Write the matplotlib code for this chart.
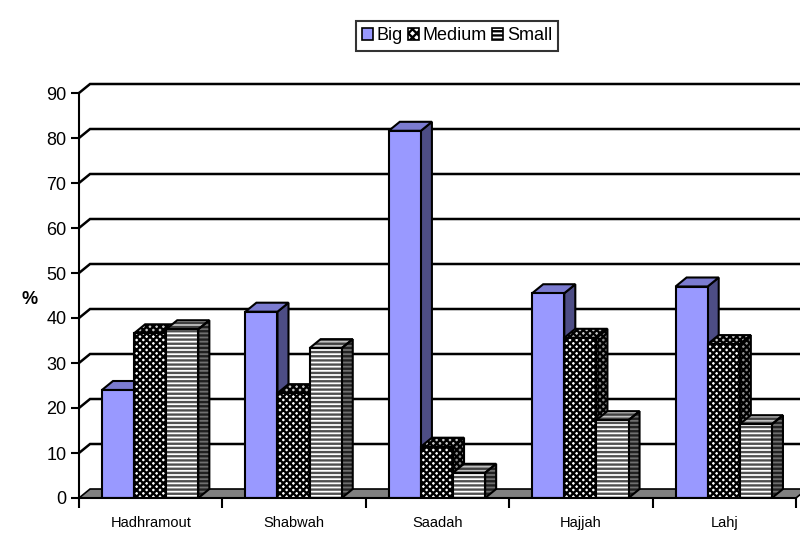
import numpy as np
import matplotlib
matplotlib.use("Agg")
import matplotlib.pyplot as plt
from matplotlib.patches import Polygon, Patch

plt.rcParams["font.family"] = ["Liberation Sans", "DejaVu Sans"]
plt.rcParams["hatch.linewidth"] = 1.7

regions = ["Hadhramout", "Shabwah", "Saadah", "Hajjah", "Lahj"]
series = ["Big", "Medium", "Small"]
big = [24, 41.4, 81.6, 45.5, 47]
medium = [36.6, 23.3, 11.4, 35.6, 34.2]
small = [37.5, 33.3, 5.6, 17.3, 16.4]
yticks = [0, 10, 20, 30, 40, 50, 60, 70, 80, 90]

# 3d look: depth offset of the back wall, in data units
dx, dy = 0.077, 2.0
bar_w = 0.224
group_off = 0.16

# face styles per series: (front, top, side) as (facecolor, hatch colour, hatch)
styles = {
    "Big": [("#9999ff", None, None), ("#7b7bd0", None, None), ("#4d4d85", None, None)],
    "Medium": [("white", "black", "xxxxx"), ("#c8c8c8", "black", "xxxxx"), ("#909090", "black", "xxxxx")],
    "Small": [("white", "#505050", "----"), ("#c0c0c0", "#404040", "----"), ("#707070", "#202020", "----")],
}

fig = plt.figure(figsize=(8, 5.34), dpi=100)
ax = fig.add_axes([79 / 800, 36 / 534, 717 / 800, 405 / 534])
ax.set_xlim(0, 5)
ax.set_ylim(0, 90)


def face(pts, style, z):
    fc, hc, hatch = style
    if hatch:
        ax.add_patch(Polygon(pts, closed=True, facecolor=fc, edgecolor=hc, hatch=hatch,
                             lw=0, zorder=z, clip_on=False))
        ax.add_patch(Polygon(pts, closed=True, fill=False, edgecolor="black", lw=1.5,
                             zorder=z + 0.01, clip_on=False))
    else:
        ax.add_patch(Polygon(pts, closed=True, facecolor=fc, edgecolor="black", lw=1.5,
                             zorder=z, clip_on=False, joinstyle="miter"))


# back wall gridlines and left wall diagonals
for v in yticks[1:]:
    ax.plot([0, dx, 5 + dx], [v, v + dy, v + dy], color="black", lw=1.8,
            clip_on=False, zorder=1, solid_joinstyle="miter")

# floor
ax.add_patch(Polygon([(0, 0), (5, 0), (5 + dx, dy), (dx, dy)], closed=True,
                     facecolor="#808080", edgecolor="black", lw=1.2, zorder=2, clip_on=False))

values = {"Big": big, "Medium": medium, "Small": small}
z = 3
for i in range(len(regions)):
    for j, name in enumerate(series):
        v = values[name][i]
        x0 = i + group_off + j * bar_w
        x1 = x0 + bar_w
        front, top, side = styles[name]
        face([(x1, 0), (x1 + dx, dy), (x1 + dx, v + dy), (x1, v)], side, z)
        face([(x0, v), (x1, v), (x1 + dx, v + dy), (x0 + dx, v + dy)], top, z)
        fc, hc, hatch = front
        if hatch:
            ax.bar(x0, v, width=bar_w, align="edge", facecolor=fc, edgecolor=hc,
                   hatch=hatch, lw=0, zorder=z + 0.5)
            ax.bar(x0, v, width=bar_w, align="edge", fill=False, edgecolor="black",
                   lw=1.5, zorder=z + 0.6)
        else:
            ax.bar(x0, v, width=bar_w, align="edge", facecolor=fc, edgecolor="black",
                   lw=1.5, zorder=z + 0.5)
        z += 1

for s in ["top", "right"]:
    ax.spines[s].set_visible(False)
for s in ["left", "bottom"]:
    ax.spines[s].set_linewidth(1.5)
    ax.spines[s].set_zorder(100)

ax.set_yticks(yticks)
ax.set_yticklabels([str(t) for t in yticks], fontsize=13)
ax.tick_params(axis="y", length=6, width=1.5, pad=3)

ax.set_xticks(np.arange(6))
ax.set_xticklabels([])
ax.tick_params(axis="x", which="major", length=7, width=1.5)
ax.set_xticks(np.arange(5) + 0.5, minor=True)
ax.set_xticklabels(regions, minor=True, fontsize=10.5)
ax.tick_params(axis="x", which="minor", length=0, pad=13)

fig.text(30 / 800, 1 - 300 / 534, "%", fontsize=13, fontweight="bold",
         ha="center", va="center")

handles = [
    Patch(facecolor="#9999ff", edgecolor="black", lw=1.2),
    Patch(facecolor="white", edgecolor="black", hatch="xxxx", lw=1.2),
    Patch(facecolor="white", edgecolor="black", hatch="----", lw=1.2),
]
fig.legend(handles, series, loc="center", bbox_to_anchor=(457 / 800, 1 - 36 / 534),
           ncol=3, fontsize=13, frameon=True, fancybox=False, edgecolor="black",
           handlelength=0.6, handleheight=0.6, handletextpad=0.2, columnspacing=0.3,
           borderpad=0.35, borderaxespad=0).get_frame().set_linewidth(1.5)

fig.savefig("out.png", dpi=100)
